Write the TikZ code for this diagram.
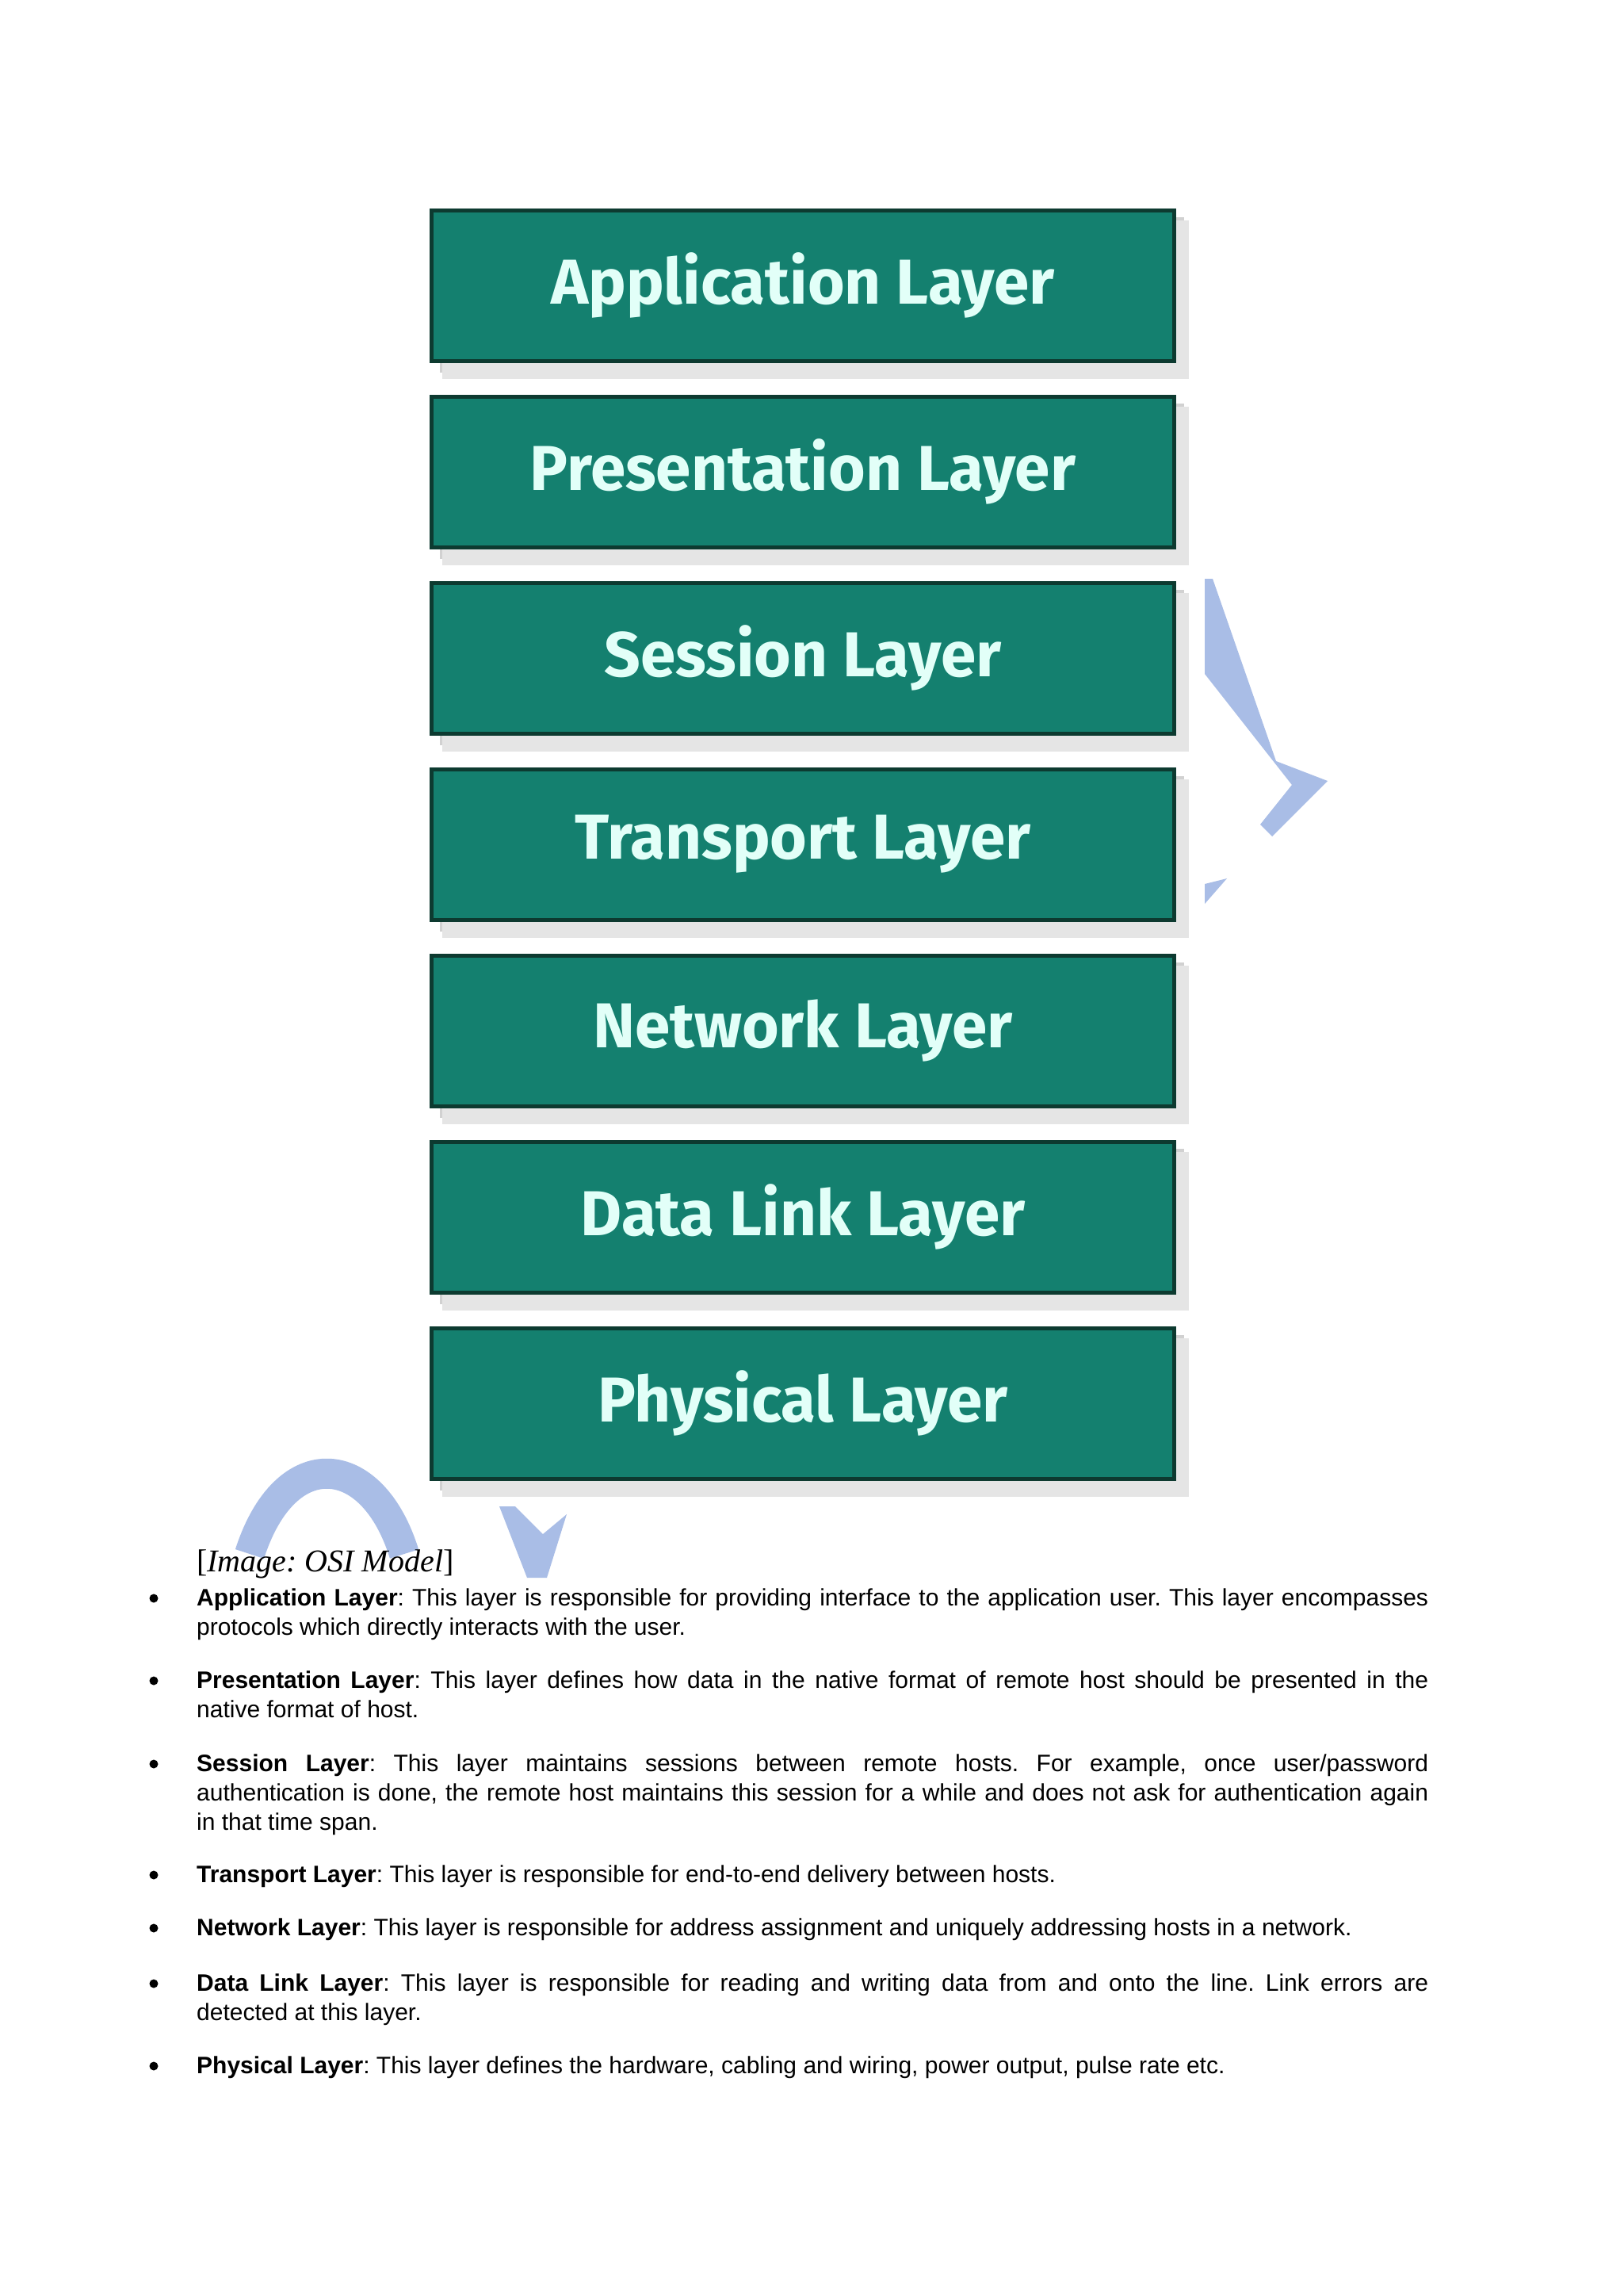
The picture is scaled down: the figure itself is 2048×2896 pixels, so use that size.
\documentclass[tikz,border=0pt]{standalone}
\usepackage{fontspec}
\setmainfont{Liberation Sans}
\newfontfamily\boxfont{Fira Sans}
\newfontfamily\capfont{Liberation Serif}
\definecolor{boxfill}{HTML}{14806F}
\definecolor{boxline}{HTML}{0D3A30}
\definecolor{boxtext}{HTML}{E2FFF8}
\definecolor{wm}{HTML}{A9BDE6}
\begin{document}
\frenchspacing
\begin{tikzpicture}[x=1pt,y=-1pt,
  layerbox/.style={draw=boxline,line width=5pt,fill=boxfill,minimum width=937pt,minimum height=190pt,
    text=boxtext,font=\boxfont\bfseries\fontsize{80}{86}\selectfont,inner sep=0pt},
  para/.style={anchor=north west,text width=1554pt,align=justify,inner sep=0pt,
    font=\frenchspacing\fontsize{30}{37}\selectfont},
  bul/.style={fill=black,circle,inner sep=0pt,minimum size=11pt}]
\useasboundingbox (0,0) rectangle (2048,2896);
\fill[white] (0,0) rectangle (2048,2896);
% watermark
\draw[wm,line width=38pt] (315,1960) .. controls (360,1820) and (470,1830) .. (510,1960);
\fill[wm] (630,1900) -- (650,1900) -- (685,1935) -- (715,1910) -- (690,1990) -- (665,1990) -- cycle;
\fill[wm] (1520,730) -- (1530,730) -- (1610,960) -- (1675,985) -- (1605,1055) -- (1590,1040) -- (1630,990) -- (1520,850) -- cycle;
\fill[wm] (1520,1115) -- (1548,1108) -- (1520,1140) -- cycle;
% shadows
\foreach \i in {0,...,6}{
  \fill[black!18] (555,{274+235*\i}) rectangle (1494,{470+235*\i});
  \fill[black!10] (558,{278+235*\i}) rectangle (1500,{478+235*\i});
}
\node[layerbox] (l1) at (1013,360) {Application Layer};
\node[layerbox] (l2) at (1013,595) {Presentation Layer};
\node[layerbox] (l3) at (1013,830) {Session Layer};
\node[layerbox] (l4) at (1013,1065) {Transport Layer};
\node[layerbox] (l5) at (1013,1300) {Network Layer};
\node[layerbox] (l6) at (1013,1535) {Data Link Layer};
\node[layerbox] (l7) at (1013,1770) {Physical Layer};
% caption
\node[anchor=base west,inner sep=0pt,font=\capfont\fontsize{40}{40}\selectfont] (cap) at (248,1982) {[\textit{Image: OSI Model}]};
% paragraphs
\node[para] (p1) at (248,2004) {\textbf{Application Layer}: This layer is responsible for providing interface to the application user. This layer encompasses\linebreak protocols which directly interacts with the user.};
\node[para] (p2) at (248,2108) {\textbf{Presentation Layer}: This layer defines how data in the native format of remote host should be presented in the\linebreak native format of host.};
\node[para] (p3) at (248,2213) {\textbf{Session Layer}: This layer maintains sessions between remote hosts. For example, once user/password\linebreak authentication is done, the remote host maintains this session for a while and does not ask for authentication again\linebreak in that time span.};
\node[para] (p4) at (248,2353) {\textbf{Transport Layer}: This layer is responsible for end-to-end delivery between hosts.};
\node[para] (p5) at (248,2420) {\textbf{Network Layer}: This layer is responsible for address assignment and uniquely addressing hosts in a network.};
\node[para] (p6) at (248,2490) {\textbf{Data Link Layer}: This layer is responsible for reading and writing data from and onto the line. Link errors are\linebreak detected at this layer.};
\node[para] (p7) at (248,2594) {\textbf{Physical Layer}: This layer defines the hardware, cabling and wiring, power output, pulse rate etc.};
\foreach \y [count=\j] in {2016,2120,2225,2365,2432,2502,2606}
  \node[bul] (b\j) at (194,\y) {};
\end{tikzpicture}
\end{document}
